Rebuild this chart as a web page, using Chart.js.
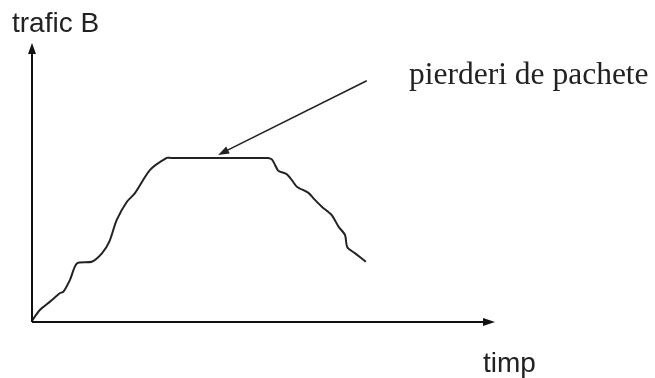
<!DOCTYPE html>
<html>
<head>
<meta charset="utf-8">
<script src="https://cdn.jsdelivr.net/npm/chart.js@4/dist/chart.umd.min.js"></script>
<style>
  html, body { margin: 0; padding: 0; background: #fff; }
  #wrap { width: 655px; height: 378px; position: relative; }
</style>
</head>
<body>
<div id="wrap"><canvas id="c"></canvas></div>
<script>
// timp (x) si trafic B (y), unitati arbitrare 0..100
const timp = [0, 1.7, 3.9, 6.0, 6.8, 8.2, 9.7, 12.9, 15.1, 16.7, 18.3, 20.5, 22.2, 25.5, 29.1, 30.0,
  50.2, 51.0, 51.8, 52.5, 53.2, 55.0, 56.1, 57.2, 59.7, 60.8, 62.6, 64.7, 66.2, 67.6, 68.1, 69.8, 72.1];
const trafic = [0.5, 4.3, 7.3, 10.3, 10.9, 15.1, 21.0, 21.6, 24.6, 28.8, 36.6, 43.1, 46.1, 54.5, 58.8, 58.8,
  58.8, 58.8, 58.3, 56.3, 54.2, 53.0, 50.9, 48.5, 46.3, 44.3, 41.3, 38.4, 34.2, 31.2, 26.8, 24.6, 21.6];

// sageata "pierderi de pachete": de la coada la varf
const annotFrom = [72.3, 86.5];
const annotTo = [40.2, 59.9];

const labelY = 'trafic B';
const labelX = 'timp';
const labelNote = 'pierderi de pachete';

const arrowHead = (ctx, x1, y1, x2, y2, len, half) => {
  const a = Math.atan2(y2 - y1, x2 - x1);
  ctx.beginPath();
  ctx.moveTo(x2, y2);
  ctx.lineTo(x2 - len * Math.cos(a) + half * Math.sin(a), y2 - len * Math.sin(a) - half * Math.cos(a));
  ctx.lineTo(x2 - len * Math.cos(a) - half * Math.sin(a), y2 - len * Math.sin(a) + half * Math.cos(a));
  ctx.closePath();
  ctx.fill();
};

const schema = {
  id: 'schema',
  afterDraw(chart) {
    const { ctx, scales: { x, y } } = chart;
    const x0 = x.getPixelForValue(0);
    const y0 = y.getPixelForValue(0);
    const xEnd = x.getPixelForValue(100);
    const yEnd = y.getPixelForValue(100);
    ctx.save();
    ctx.strokeStyle = '#111';
    ctx.fillStyle = '#111';
    ctx.lineWidth = 2;

    // axe
    ctx.beginPath();
    ctx.moveTo(x0, y0);
    ctx.lineTo(x0, yEnd + 6);
    ctx.moveTo(x0, y0);
    ctx.lineTo(xEnd - 6, y0);
    ctx.stroke();
    arrowHead(ctx, x0, y0, x0, yEnd, 11, 4);
    arrowHead(ctx, x0, y0, xEnd, y0, 12, 4);

    // sageata adnotare
    const ax1 = x.getPixelForValue(annotFrom[0]);
    const ay1 = y.getPixelForValue(annotFrom[1]);
    const ax2 = x.getPixelForValue(annotTo[0]);
    const ay2 = y.getPixelForValue(annotTo[1]);
    ctx.lineWidth = 1.6;
    ctx.strokeStyle = '#222';
    ctx.fillStyle = '#222';
    ctx.beginPath();
    ctx.moveTo(ax1, ay1);
    ctx.lineTo(ax2 + 8, ay2 - 4);
    ctx.stroke();
    arrowHead(ctx, ax1, ay1, ax2, ay2, 11, 4);

    // texte
    ctx.fillStyle = '#222';
    ctx.textAlign = 'left';
    ctx.textBaseline = 'alphabetic';
    ctx.font = "28px 'Liberation Sans', Arial, sans-serif";
    ctx.fillText(labelY, 12, 32);
    ctx.fillText(labelX, 483, 372);
    ctx.font = "31.5px 'Liberation Serif', 'Times New Roman', serif";
    ctx.fillText(labelNote, 409, 84);
    ctx.restore();
  },
};

new Chart(document.getElementById('c'), {
  type: 'line',
  plugins: [schema],
  data: {
    datasets: [
      {
        data: timp.map((t, i) => ({ x: t, y: trafic[i] })),
        borderColor: '#222',
        borderWidth: 2,
        pointRadius: 0,
        tension: 0.25,
        fill: false,
      },
    ],
  },
  options: {
    responsive: true,
    maintainAspectRatio: false,
    animation: false,
    layout: { padding: { left: 32, right: 160, top: 43, bottom: 56 } },
    plugins: { legend: { display: false }, tooltip: { enabled: false } },
    scales: {
      x: { type: 'linear', min: 0, max: 100, display: false },
      y: { min: 0, max: 100, display: false },
    },
  },
});
</script>
</body>
</html>
